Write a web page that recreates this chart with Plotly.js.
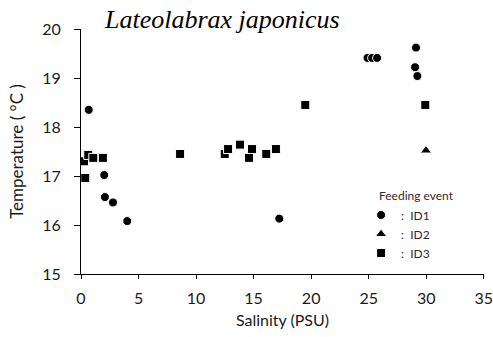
<!DOCTYPE html>
<html>
<head>
<meta charset="utf-8">
<script src="https://cdn.plot.ly/plotly-3.0.1.min.js"></script>
<style>
  html, body { margin: 0; padding: 0; background: #ffffff; }
  #chart { width: 493px; height: 337px; }
</style>
</head>
<body>
<div id="chart"></div>
<script>
// Feeding events of Lateolabrax japonicus: salinity (PSU) vs temperature (°C)
const id1Salinity = [0.67, 2.02, 2.08, 2.78, 4.02, 17.23, 24.9, 25.3, 25.73, 29.11, 29.03, 29.23];
const id1Temp     = [18.35, 17.02, 16.57, 16.46, 16.08, 16.13, 19.41, 19.41, 19.41, 19.62, 19.22, 19.04];

const id2Salinity = [29.98];
const id2Temp     = [17.52];

const id3Salinity = [0.26, 0.63, 1.07, 1.9, 0.37, 8.61, 12.49, 12.78, 13.82, 14.6, 14.86, 16.1, 16.94, 19.49, 29.92];
const id3Temp     = [17.30, 17.43, 17.37, 17.37, 16.96, 17.45, 17.45, 17.55, 17.64, 17.37, 17.55, 17.45, 17.55, 18.45, 18.45];

const seriesNames = ['ID1', 'ID2', 'ID3'];
const xTicks = [0, 5, 10, 15, 20, 25, 30, 35];
const yTicks = [15, 16, 17, 18, 19, 20];

const sans = 'Lato, "Open Sans", sans-serif';
const edge = { color: '#ffffff', width: 1 };

const traces = [
  { x: id1Salinity, y: id1Temp, name: ':  ' + seriesNames[0], type: 'scatter', mode: 'markers',
    marker: { symbol: 'circle', size: 9, color: '#000000', line: edge } },
  { x: id2Salinity, y: id2Temp, name: ':  ' + seriesNames[1], type: 'scatter', mode: 'markers',
    marker: { symbol: 'triangle-up', size: 10, color: '#000000', line: edge } },
  { x: id3Salinity, y: id3Temp, name: ':  ' + seriesNames[2], type: 'scatter', mode: 'markers',
    marker: { symbol: 'square', size: 9, color: '#000000', line: edge } }
];

const layout = {
  width: 493, height: 337,
  margin: { l: 81, r: 9, t: 29, b: 63 },
  paper_bgcolor: '#ffffff', plot_bgcolor: '#ffffff',
  font: { family: sans, color: '#1a1a1a' },
  title: {
    text: '<i>Lateolabrax japonicus</i>',
    font: { family: '"Liberation Serif", "Times New Roman", serif', size: 26, color: '#000000' },
    x: 0.213, xanchor: 'left', xref: 'container',
    y: 0.945, yanchor: 'middle', yref: 'container'
  },
  xaxis: {
    range: [0, 35.02], tickvals: xTicks, ticktext: xTicks.map(String),
    showgrid: false, zeroline: false,
    showline: true, linecolor: '#000000', linewidth: 1,
    ticks: 'outside', ticklen: 4, tickcolor: '#000000', tickwidth: 1,
    ticklabelstandoff: 6, ticklabeloverflow: 'allow',
    tickfont: { family: sans, size: 16, color: '#1a1a1a' },
    title: { text: 'Salinity (PSU)', font: { family: sans, size: 16, color: '#1a1a1a' }, standoff: 8 }
  },
  yaxis: {
    range: [15, 20], tickvals: yTicks, ticktext: yTicks.map(String),
    showgrid: false, zeroline: false,
    showline: true, linecolor: '#000000', linewidth: 1,
    ticks: 'outside', ticklen: 6, tickcolor: '#000000', tickwidth: 1,
    ticklabelstandoff: 10,
    tickfont: { family: sans, size: 16, color: '#1a1a1a' },
    title: { text: 'Temperature ( °C )', font: { family: sans, size: 17, color: '#1a1a1a' }, standoff: 14 }
  },
  showlegend: true,
  legend: {
    x: 0.695, xanchor: 'left', y: 0.3, yanchor: 'top',
    bgcolor: 'rgba(0,0,0,0)', borderwidth: 0,
    font: { family: sans, size: 12, color: '#3a2530' },
    tracegroupgap: 0
  },
  annotations: [
    { text: 'Feeding event', xref: 'paper', yref: 'paper',
      x: (377 - 81) / 403, xanchor: 'left', y: (274 - 195) / 245, yanchor: 'middle',
      showarrow: false, font: { family: sans, size: 12, color: '#3a2530' } }
  ]
};

Plotly.newPlot('chart', traces, layout, { displayModeBar: false, staticPlot: true });
</script>
</body>
</html>
